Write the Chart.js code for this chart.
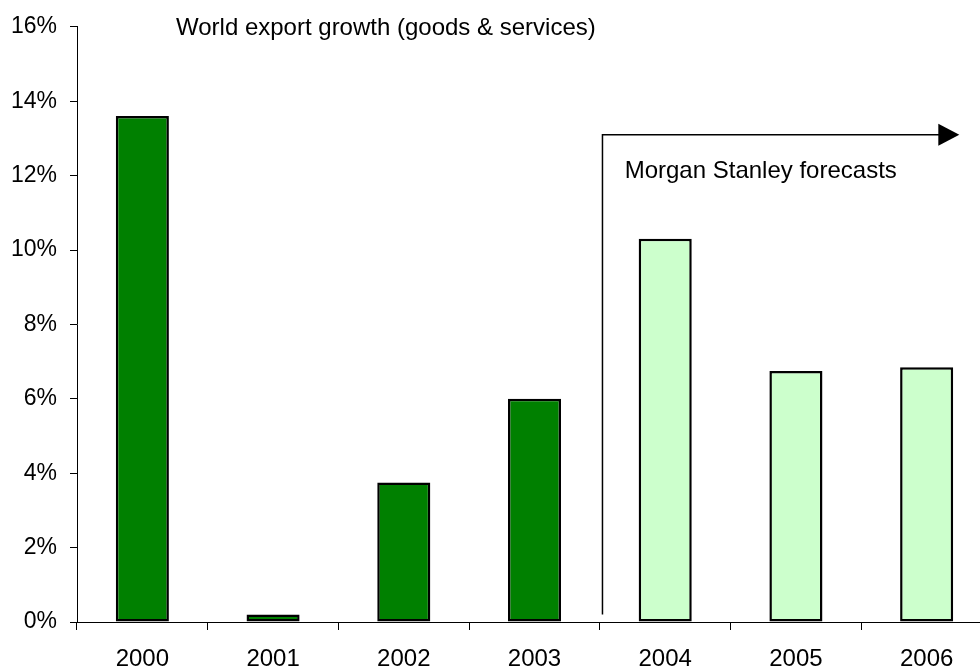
<!DOCTYPE html>
<html>
<head>
<meta charset="utf-8">
<script src="https://cdn.jsdelivr.net/npm/chart.js@4.4.0/dist/chart.umd.min.js"></script>
<style>
    html, body { margin: 0; padding: 0; background: #fff; overflow: hidden; }
    #wrap { width: 992px; height: 668px; }
</style>
</head>
<body>
<div id="wrap"><canvas id="chart" width="992" height="668"></canvas></div>
<script>
// 数据
const years = ['2000', '2001', '2002', '2003', '2004', '2005', '2006'];
const growth = [13.6, 0.2, 3.75, 6.0, 10.3, 6.75, 6.85];
const isForecast = [false, false, false, false, true, true, true];
const yTicks = [0, 2, 4, 6, 8, 10, 12, 14, 16];

const titleText = 'World export growth (goods & services)';
const forecastText = 'Morgan Stanley forecasts';

// 注释位置（类别索引 / 百分比数值）
const arrowStartIndex = 3.52;
const arrowTipIndex = 6.25;
const arrowLow = 0.2;
const arrowHigh = 13.1;
const forecastLabelIndex = 3.69;
const forecastLabelValue = 11.93;

const FONT = '"Liberation Sans", Arial, sans-serif';

// 自定义绘制：标题和预测箭头
const annotate = {
    id: 'annotate',
    afterDatasetsDraw(chart) {
        const { ctx, scales: { x, y } } = chart;
        ctx.save();
        ctx.strokeStyle = '#000';
        ctx.fillStyle = '#000';
        ctx.lineWidth = 1.5;

        const x0 = x.getPixelForValue(arrowStartIndex);
        const x1 = x.getPixelForValue(arrowTipIndex);
        const yLow = y.getPixelForValue(arrowLow);
        const yHigh = y.getPixelForValue(arrowHigh);
        ctx.beginPath();
        ctx.moveTo(x0, yLow);
        ctx.lineTo(x0, yHigh);
        ctx.lineTo(x1 - 20, yHigh);
        ctx.stroke();
        ctx.beginPath();
        ctx.moveTo(x1, yHigh);
        ctx.lineTo(x1 - 21, yHigh - 11);
        ctx.lineTo(x1 - 21, yHigh + 11);
        ctx.closePath();
        ctx.fill();

        ctx.font = '24px ' + FONT;
        ctx.textAlign = 'left';
        ctx.textBaseline = 'alphabetic';
        ctx.fillText(forecastText, x.getPixelForValue(forecastLabelIndex), y.getPixelForValue(forecastLabelValue));
        ctx.fillText(titleText, 176, 35);
        ctx.restore();
    }
};

const ctx = document.getElementById('chart').getContext('2d');
new Chart(ctx, {
    type: 'bar',
    data: {
        labels: years,
        datasets: [{
            data: growth,
            backgroundColor: isForecast.map(f => f ? '#CCFFCC' : '#008000'),
            borderColor: '#000',
            borderWidth: 2.5,
            borderSkipped: false,
            barPercentage: 0.406,
            categoryPercentage: 1
        }]
    },
    options: {
        responsive: false,
        animation: false,
        layout: { padding: { top: 25, left: 0, right: 0, bottom: 0 } },
        plugins: {
            legend: { display: false },
            tooltip: { enabled: false }
        },
        scales: {
            x: {
                grid: { display: true, drawOnChartArea: false, drawTicks: true, tickLength: 8, color: '#000', offset: true },
                border: { display: true, color: '#000', width: 1 },
                ticks: { color: '#000', padding: 15, font: { size: 24, family: FONT }, maxRotation: 0 },
                afterFit(scale) { scale.height = 46; }
            },
            y: {
                min: 0,
                max: 16,
                afterBuildTicks(scale) { scale.ticks = yTicks.map(v => ({ value: v })); },
                grid: { display: true, drawOnChartArea: false, drawTicks: true, tickLength: 7, color: '#000' },
                border: { display: true, color: '#000', width: 1 },
                ticks: { color: '#000', padding: 13, font: { size: 23, family: FONT }, callback: v => v + '%' },
                afterFit(scale) { scale.width = 77; }
            }
        }
    },
    plugins: [annotate]
});
</script>
</body>
</html>
